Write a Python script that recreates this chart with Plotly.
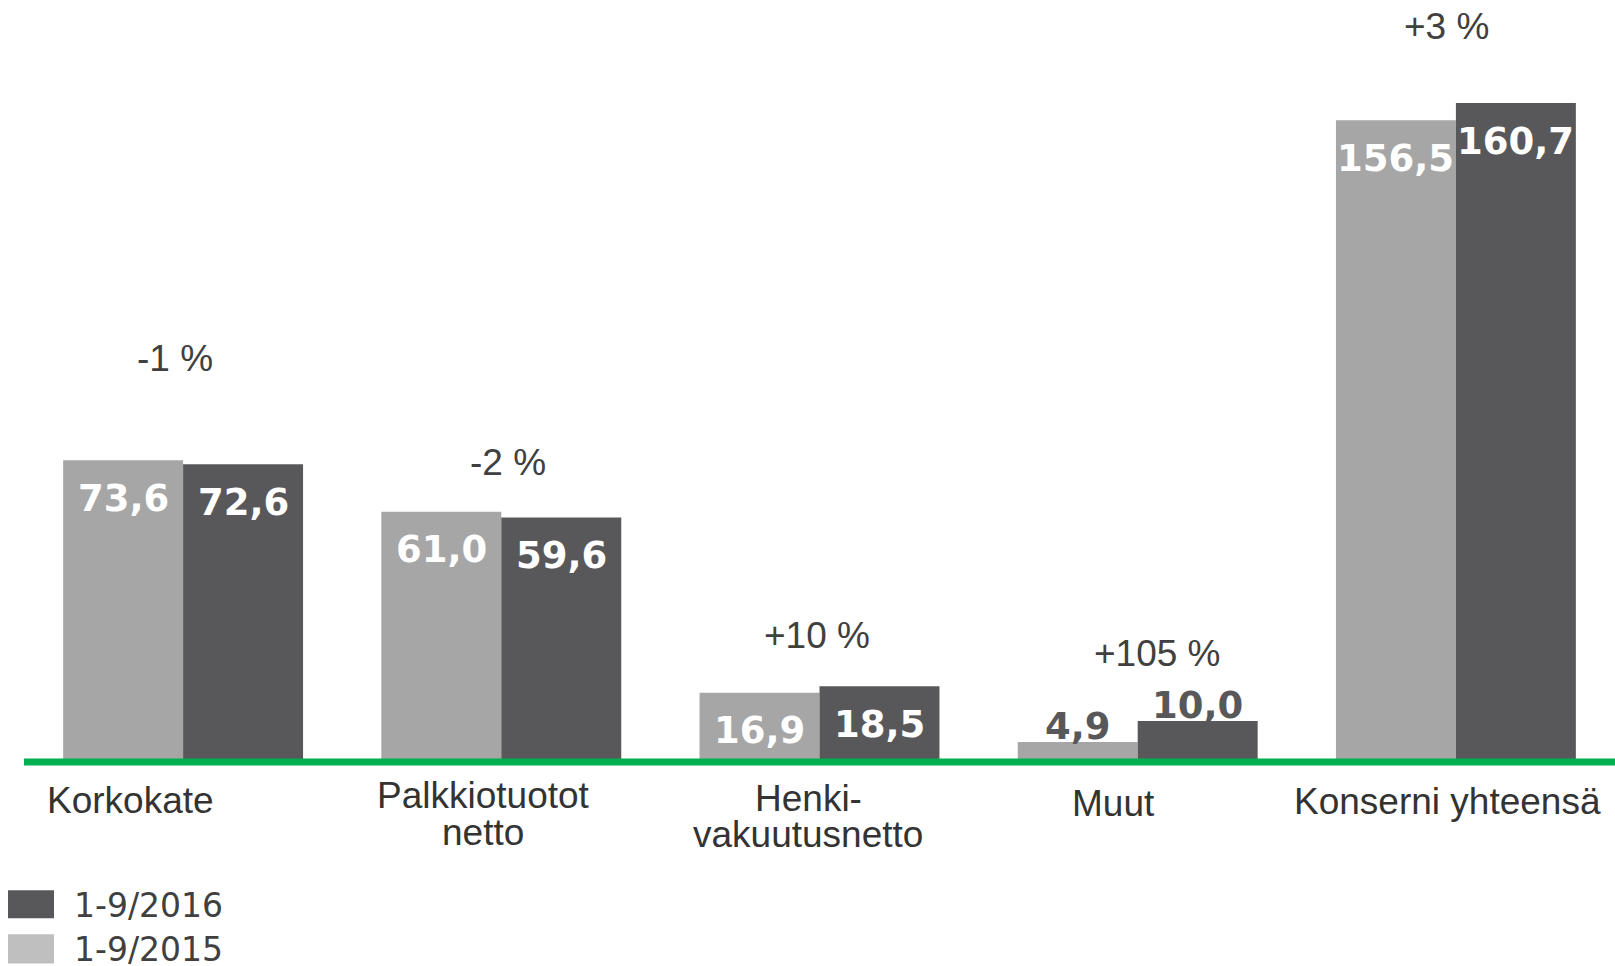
import plotly.graph_objects as go

# ---------------- data ----------------
categories = ["Korkokate", "Palkkiotuotot netto", "Henki-vakuutusnetto", "Muut", "Konserni yhteensä"]
category_lines = [["Korkokate"], ["Palkkiotuotot", "netto"], ["Henki-", "vakuutusnetto"], ["Muut"], ["Konserni yhteensä"]]
series_names = ["1-9/2015", "1-9/2016"]
values_2015 = [73.6, 61.0, 16.9, 4.9, 156.5]
values_2016 = [72.6, 59.6, 18.5, 10.0, 160.7]
value_labels_2015 = ["73,6", "61,0", "16,9", "4,9", "156,5"]
value_labels_2016 = ["72,6", "59,6", "18,5", "10,0", "160,7"]
change_labels = ["-1 %", "-2 %", "+10 %", "+105 %", "+3 %"]

# ---------------- styling / layout ----------------
OFF = 0                      # body margin removed via post_script
PAGE_W, PAGE_H = 1615, 966
W, H = PAGE_W - OFF, PAGE_H - OFF
BASE = 761.7                 # page y of the zero line
PLOT_LEFT = 24               # page x of plot left edge
PX_PER_UNIT = 4.099
ML, MR, MT = PLOT_LEFT - OFF, 0, 0
MB = H - (BASE - OFF)
BARGAP = 0.246
C15, C16 = "#A6A6A6", "#58585A"
LEG15, LEG16 = "#BFBFBF", "#58585A"
GREEN = "#00B050"
TXT = "#404040"
ARIAL = "Liberation Sans, Arial, sans-serif"
VERDANA = "DejaVu Sans, Verdana, sans-serif"

plot_h = H - MT - MB
plot_w = W - ML - MR
Y_MAX = plot_h / PX_PER_UNIT


def paper_x(px):
    return (px - OFF - ML) / plot_w


def paper_y(py):
    return (H - MB - (py - OFF)) / plot_h


fig = go.Figure()
fig.add_trace(go.Bar(x=list(range(len(categories))), y=values_2015, name=series_names[0],
                     marker=dict(color=C15, line=dict(width=0)), showlegend=False,
                     hovertext=categories))
fig.add_trace(go.Bar(x=list(range(len(categories))), y=values_2016, name=series_names[1],
                     marker=dict(color=C16, line=dict(width=0)), showlegend=False,
                     hovertext=categories))

annotations = []

# value labels on bars
half = (1 - BARGAP) / 4
for vals, labs, off in ((values_2015, value_labels_2015, -half), (values_2016, value_labels_2016, half)):
    for i, (v, lab) in enumerate(zip(vals, labs)):
        inside = v * PX_PER_UNIT > 50
        annotations.append(dict(
            x=i + off, y=v, xref="x", yref="y", text=lab, showarrow=False,
            xanchor="center", yanchor="top" if inside else "bottom",
            yshift=-14.5 if inside else -8,
            font=dict(family=VERDANA, size=37, weight="bold", color="white" if inside else C16),
        ))

# change percentage labels (page-pixel centres)
pct_centers = [(175, 358), (508, 462), (817, 635), (1157, 653), (1446, 26)]
cat_centers = [PLOT_LEFT + plot_w * (i + 0.5) / len(categories) for i in range(len(categories))]
for i, (lab, (cx, cy)) in enumerate(zip(change_labels, pct_centers)):
    annotations.append(dict(
        x=i, xref="x", xshift=cx - cat_centers[i], y=paper_y(cy), yref="paper",
        text=lab, showarrow=False, xanchor="center", yanchor="middle",
        font=dict(family=ARIAL, size=37, color=TXT),
    ))

# category labels
label_pos = [(130, [800]), (483, [795, 832]), (808, [798, 834]), (1113, [803]), (1447, [801])]
for i, (lines, (cx, ys)) in enumerate(zip(category_lines, label_pos)):
    for line, cy in zip(lines, ys):
        annotations.append(dict(
            x=i, xref="x", xshift=cx - cat_centers[i], y=paper_y(cy), yref="paper",
            text=line, showarrow=False, xanchor="center", yanchor="middle",
            font=dict(family=ARIAL, size=37, color="#333333"),
        ))

# baseline and manual legend (large swatches)
shapes = [
    dict(type="line", xref="paper", x0=0, x1=1, yref="paper", y0=0, y1=0,
         line=dict(color=GREEN, width=7), layer="above"),
]
legend_rows = [(series_names[1], LEG16, 890, 918), (series_names[0], LEG15, 934, 963)]
for name, col, y0, y1 in legend_rows:
    shapes.append(dict(type="rect", xref="paper", yref="paper",
                       x0=paper_x(8), x1=paper_x(54), y0=paper_y(y1), y1=paper_y(y0),
                       fillcolor=col, line=dict(width=0)))
    annotations.append(dict(x=paper_x(72), y=paper_y((y0 + y1) / 2 + 1), xref="paper", yref="paper",
                            text=name, showarrow=False, xanchor="left", yanchor="middle",
                            font=dict(family=VERDANA, size=33, color=TXT)))

fig.update_layout(
    width=W, height=H,
    margin=dict(l=ML, r=MR, t=MT, b=MB, pad=0),
    paper_bgcolor="white", plot_bgcolor="white",
    barmode="group", bargap=BARGAP, bargroupgap=0,
    xaxis=dict(type="linear", range=[-0.5, len(categories) - 0.5], showgrid=False,
               zeroline=False, showticklabels=False, showline=False, ticks=""),
    yaxis=dict(range=[0, Y_MAX], showgrid=False, zeroline=False, showticklabels=False,
               showline=False, ticks=""),
    annotations=annotations,
    shapes=shapes,
    showlegend=False,
)

fig.write_html("out.html", config={"displayModeBar": False},
               post_script="document.body.style.margin='0px';")
